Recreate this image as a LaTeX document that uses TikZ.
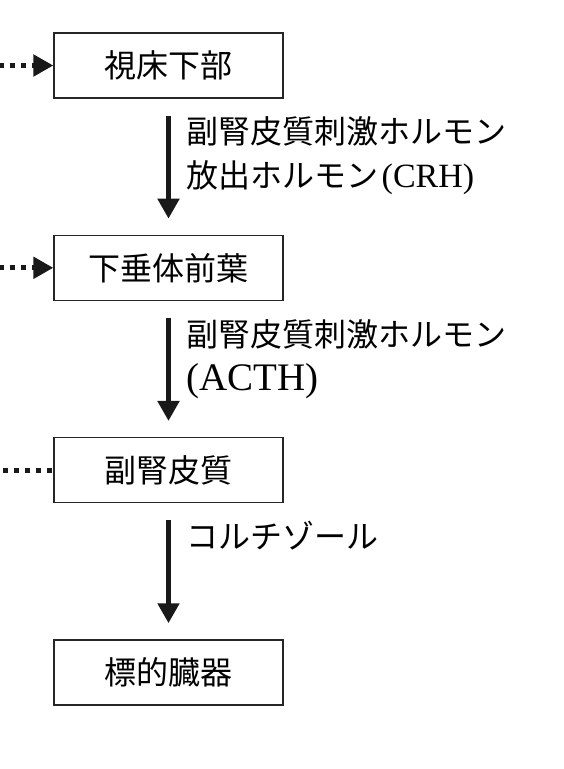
\documentclass[tikz,border=0pt]{standalone}
\usepackage{fontspec}
\setmainfont{Liberation Serif}
\newfontfamily\cjk{Noto Sans CJK JP}
\usetikzlibrary{positioning,arrows.meta}

\begin{document}
\begin{tikzpicture}[
			x=1pt, y=-1pt,
			font=\fontsize{32}{44}\selectfont,
			box/.style={draw=black!85, line width=1.3pt, minimum width=229pt, minimum height=65pt, inner sep=0pt},
			flow/.style={line width=5pt, black!90, -{Triangle[length=20pt,width=21pt]}, shorten <=17pt, shorten >=16pt},
			lbl/.style={align=left, inner sep=0pt, anchor=north west},
			dots/.style={line width=5pt, black!90, dash pattern=on 5pt off 6pt}
		]
		\useasboundingbox (0,0) rectangle (564,769);

		\node[box] (hypo) at (168.5,65.5) {\cjk 視床下部};
		\node[box, below=136pt of hypo] (pit) {\cjk 下垂体前葉};
		\node[box, below=136pt of pit] (adrenal) {\cjk 副腎皮質};
		\node[box, below=136pt of adrenal] (target) {\cjk 標的臓器};

		\draw[flow] (hypo) -- (pit);
		\draw[flow] (pit) -- (adrenal);
		\draw[flow] (adrenal) -- (target);

		\node[lbl, below right=18pt and 18pt of hypo.south] (crh) {\cjk 副腎皮質刺激ホルモン\\{\cjk 放出ホルモン}\kern3pt{\fontsize{34}{44}\selectfont(CRH)}};
		\node[lbl, below right=18pt and 18pt of pit.south] (acth) {\cjk 副腎皮質刺激ホルモン\\{\fontsize{39}{44}\selectfont(ACTH)}};
		\node[lbl, below right=18pt and 18pt of adrenal.south] (cort) {\cjk コルチゾール};

		% feedback from the left
		\coordinate[left=54pt of hypo.west] (fb1);
		\coordinate[left=54pt of pit.west] (fb2);
		\coordinate[left=50pt of adrenal.west] (fb3);
		\draw[dots, -{Triangle[length=20pt,width=21pt]}] (fb1) -- (hypo.west);
		\draw[dots, -{Triangle[length=20pt,width=21pt]}] (fb2) -- (pit.west);
		\draw[dots] (fb3) -- (adrenal.west);
	\end{tikzpicture}
\end{document}
